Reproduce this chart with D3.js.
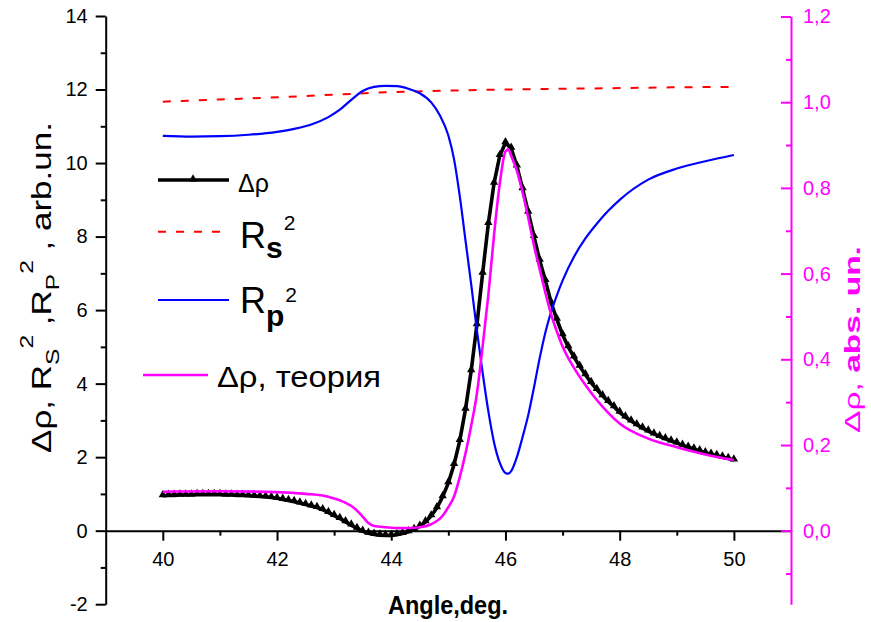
<!DOCTYPE html>
<html>
<head>
<meta charset="utf-8">
<script src="https://cdnjs.cloudflare.com/ajax/libs/d3/7.8.5/d3.min.js"></script>
<style>
  body { margin: 0; background: #fff; }
  svg { display: block; font-family: "Liberation Sans", Arial, sans-serif; }
</style>
</head>
<body>
<svg id="chart" width="871" height="622"></svg>
<script>
// experimental delta rho (left axis), one point every 0.1 deg
const angleExp = [40.0, 40.1, 40.2, 40.3, 40.4, 40.5, 40.6, 40.7, 40.8, 40.9,
  41.0, 41.1, 41.2, 41.3, 41.4, 41.5, 41.6, 41.7, 41.8, 41.9,
  42.0, 42.1, 42.2, 42.3, 42.4, 42.5, 42.6, 42.7, 42.8, 42.9,
  43.0, 43.1, 43.2, 43.3, 43.4, 43.5, 43.6, 43.7, 43.8, 43.9,
  44.0, 44.1, 44.2, 44.3, 44.4, 44.5, 44.6, 44.7, 44.8, 44.9,
  45.0, 45.1, 45.2, 45.3, 45.4, 45.5, 45.6, 45.7, 45.8, 45.9,
  46.0, 46.1, 46.2, 46.3, 46.4, 46.5, 46.6, 46.7, 46.8, 46.9,
  47.0, 47.1, 47.2, 47.3, 47.4, 47.5, 47.6, 47.7, 47.8, 47.9,
  48.0, 48.1, 48.2, 48.3, 48.4, 48.5, 48.6, 48.7, 48.8, 48.9,
  49.0, 49.1, 49.2, 49.3, 49.4, 49.5, 49.6, 49.7, 49.8, 49.9, 50.0];
const dRhoExp = [0.95, 0.96, 0.96, 0.97, 0.97, 0.97, 0.98, 0.98, 0.98, 0.98,
  0.98, 0.97, 0.97, 0.96, 0.96, 0.95, 0.94, 0.93, 0.92, 0.90,
  0.88, 0.85, 0.82, 0.79, 0.75, 0.71, 0.67, 0.63, 0.57, 0.49,
  0.41, 0.33, 0.24, 0.15, 0.06, -0.02, -0.07, -0.10, -0.12, -0.13,
  -0.13, -0.11, -0.08, -0.03, 0.03, 0.12, 0.24, 0.40, 0.62, 0.92,
  1.30, 1.80, 2.45, 3.30, 4.35, 5.60, 7.00, 8.35, 9.45, 10.20,
  10.55, 10.40, 9.92, 9.30, 8.66, 8.00, 7.35, 6.80, 6.20, 5.75,
  5.33, 5.00, 4.72, 4.47, 4.24, 4.03, 3.84, 3.67, 3.51, 3.37,
  3.22, 3.09, 2.98, 2.88, 2.79, 2.71, 2.63, 2.56, 2.50, 2.44,
  2.38, 2.32, 2.27, 2.22, 2.17, 2.12, 2.08, 2.04, 2.00, 1.96, 1.92];

// Rs^2 (left axis)
const angleRs = [40, 41, 42, 43, 44, 45, 46, 47, 48, 49, 50];
const rs2 = [11.67, 11.73, 11.79, 11.86, 11.93, 11.97, 12.0, 12.02, 12.04, 12.06, 12.07];

// Rp^2 (left axis)
const angleRp = [40, 40.5, 41, 41.5, 42, 42.3, 42.6, 42.9, 43.1, 43.3, 43.5, 43.7, 43.9,
  44.1, 44.3, 44.5, 44.7, 44.85, 45.0, 45.1, 45.2, 45.3, 45.4, 45.5, 45.6, 45.7, 45.8,
  45.9, 46.0, 46.05, 46.1, 46.2, 46.3, 46.4, 46.5, 46.6, 46.7, 46.8, 46.9, 47.0, 47.2,
  47.4, 47.6, 47.8, 48.0, 48.5, 49.0, 49.5, 50.0];
const rp2 = [10.74, 10.72, 10.73, 10.77, 10.85, 10.93, 11.05, 11.25, 11.45, 11.72, 11.96, 12.07, 12.1,
  12.09, 12.02, 11.9, 11.65, 11.3, 10.75, 10.1, 9.1, 7.9, 6.7, 5.45, 4.3, 3.25, 2.4,
  1.85, 1.57, 1.55, 1.62, 2.0, 2.55, 3.15, 3.9, 4.7, 5.4, 5.95, 6.4, 6.8, 7.45,
  7.95, 8.35, 8.7, 9.0, 9.55, 9.85, 10.05, 10.22];

// delta rho, theory (right axis)
const angleTh = [40, 41, 42, 42.5, 42.8, 43.0, 43.2, 43.35, 43.5, 43.6, 43.7, 43.9, 44.2,
  44.5, 44.7, 44.9, 45.0, 45.1, 45.2, 45.3, 45.4, 45.5, 45.6, 45.7, 45.8, 45.9, 46.0,
  46.05, 46.1, 46.2, 46.3, 46.4, 46.5, 46.6, 46.7, 46.8, 46.9, 47.0, 47.2, 47.4, 47.6,
  47.8, 48.0, 48.5, 49.0, 49.5, 50.0];
const dRhoTh = [0.091, 0.092, 0.09, 0.086, 0.082, 0.075, 0.065, 0.053, 0.033, 0.018, 0.011, 0.008, 0.006,
  0.008, 0.015, 0.035, 0.055, 0.08, 0.125, 0.18, 0.245, 0.32, 0.43, 0.55, 0.69, 0.81, 0.885,
  0.89, 0.875, 0.84, 0.79, 0.73, 0.665, 0.61, 0.555, 0.505, 0.465, 0.43, 0.38, 0.34, 0.305,
  0.275, 0.25, 0.215, 0.195, 0.178, 0.165];

const leftMajor = [-2, 0, 2, 4, 6, 8, 10, 12, 14];
const leftMinor = [-1, 1, 3, 5, 7, 9, 11, 13];
const bottomMajor = [40, 42, 44, 46, 48, 50];
const bottomMinor = [41, 43, 45, 47, 49];
const rightMajor = [0, 0.2, 0.4, 0.6, 0.8, 1.0, 1.2];
const rightMinor = [-0.1, 0.1, 0.3, 0.5, 0.7, 0.9, 1.1];

const MAGENTA = "#ff00ff";
const svg = d3.select("#chart");

const x = d3.scaleLinear().domain([39, 51]).range([105.7, 791]);
const yL = d3.scaleLinear().domain([-2, 14]).range([604.2, 16]);
const yR = d3.scaleLinear().domain([-0.1715, 1.2]).range([604.2, 16.5]);

// curves
const lineL = d3.line().x(d => x(d[0])).y(d => yL(d[1]));
const lineR = d3.line().x(d => x(d[0])).y(d => yR(d[1]));

const expPts = angleExp.map((a, i) => [a, dRhoExp[i]]);
const rsPts = angleRs.map((a, i) => [a, rs2[i]]);
const rpPts = angleRp.map((a, i) => [a, rp2[i]]);
const thPts = angleTh.map((a, i) => [a, dRhoTh[i]]);

svg.append("path").attr("d", lineL(expPts))
  .attr("fill", "none").attr("stroke", "#000").attr("stroke-width", 3.6);
svg.selectAll(".tri").data(expPts).enter().append("path")
  .attr("class", "tri")
  .attr("d", d3.symbol(d3.symbolTriangle, 30))
  .attr("transform", d => `translate(${x(d[0])},${yL(d[1]) - 1})`)
  .attr("fill", "#000");

svg.append("path").attr("d", lineL.curve(d3.curveMonotoneX)(rsPts))
  .attr("fill", "none").attr("stroke", "#ff0000").attr("stroke-width", 2)
  .attr("stroke-dasharray", "8,10");
svg.append("path").attr("d", lineL.curve(d3.curveMonotoneX)(rpPts))
  .attr("fill", "none").attr("stroke", "#0000ff").attr("stroke-width", 2.2);
svg.append("path").attr("d", lineR.curve(d3.curveMonotoneX)(thPts))
  .attr("fill", "none").attr("stroke", MAGENTA).attr("stroke-width", 2.6);

// axes
function styleAxis(g, color) {
  g.attr("font-size", null).attr("font-family", null);
  g.selectAll("line").attr("stroke", color).attr("stroke-width", 2);
  g.selectAll("path").attr("stroke", color).attr("stroke-width", 2);
  g.selectAll("text").attr("fill", color).style("font-size", "20px");
}

const gL = svg.append("g").attr("transform", "translate(105.7,0)")
  .call(d3.axisLeft(yL).tickValues(leftMajor).tickSize(10).tickSizeOuter(0).tickPadding(8)
    .tickFormat(d => String(d)));
gL.append("g").call(d3.axisLeft(yL).tickValues(leftMinor).tickSize(5).tickFormat(""))
  .select(".domain").remove();
styleAxis(gL, "#000");

const gB = svg.append("g").attr("transform", `translate(0,${yL(0)})`)
  .call(d3.axisBottom(x).tickValues(bottomMajor).tickSize(10).tickSizeOuter(0).tickPadding(11));
gB.append("g").call(d3.axisBottom(x).tickValues(bottomMinor).tickSize(5).tickFormat(""))
  .select(".domain").remove();
styleAxis(gB, "#000");

const comma = d => d3.format(".1f")(d).replace(".", ",");
const gR = svg.append("g").attr("transform", "translate(791,0)")
  .call(d3.axisRight(yR).tickValues(rightMajor).tickSizeInner(-10).tickSizeOuter(0)
    .tickPadding(12).tickFormat(comma));
gR.append("g").call(d3.axisRight(yR).tickValues(rightMinor).tickSizeInner(-5).tickSizeOuter(0).tickFormat(""))
  .select(".domain").remove();
styleAxis(gR, MAGENTA);

// stretch a text along its own direction so it covers a given length
function fitLength(sel, base, len) {
  const w = sel.node().getBBox().width;
  sel.attr("transform", `${base} scale(${len / w},1)`);
}

// axis titles
svg.append("text").attr("x", 448).attr("y", 614)
  .attr("text-anchor", "middle").attr("font-weight", "bold")
  .attr("font-size", 26).attr("textLength", 120).attr("lengthAdjust", "spacingAndGlyphs")
  .text("Angle,deg.");

const tl = svg.append("text").attr("text-anchor", "middle").attr("font-size", 27);
tl.append("tspan").text("Δρ, R");
tl.append("tspan").attr("font-size", 19).attr("dy", 8).text("S");
tl.append("tspan").attr("font-size", 19).attr("dy", -26).text("2");
tl.append("tspan").attr("dy", 18).text(" ,R");
tl.append("tspan").attr("font-size", 19).attr("dy", 8).text("P");
tl.append("tspan").attr("font-size", 19).attr("dy", -26).text("2");
tl.append("tspan").attr("dy", 18).text(" , arb.un.");
fitLength(tl, "translate(51,287.5) rotate(-90)", 331);

const tr = svg.append("text").attr("text-anchor", "middle").attr("font-size", 22).attr("fill", MAGENTA);
tr.append("tspan").text("Δρ, ");
tr.append("tspan").attr("font-weight", "bold").text("abs. un.");
fitLength(tr, "translate(860,339.5) rotate(-90)", 187);

// legend
const lg = svg.append("g");
lg.append("line").attr("x1", 158).attr("x2", 229).attr("y1", 180).attr("y2", 180)
  .attr("stroke", "#000").attr("stroke-width", 3.6);
lg.append("path").attr("d", d3.symbol(d3.symbolTriangle, 30))
  .attr("transform", "translate(193,179)").attr("fill", "#000");
lg.append("text").attr("x", 238).attr("y", 191.7).attr("font-size", 25).text("Δρ");

lg.append("line").attr("x1", 158).attr("x2", 221).attr("y1", 231.7).attr("y2", 231.7)
  .attr("stroke", "#ff0000").attr("stroke-width", 2).attr("stroke-dasharray", "8,10");
const ls = lg.append("text").attr("x", 240).attr("y", 248.3).attr("font-size", 36);
ls.append("tspan").text("R");
ls.append("tspan").attr("font-size", 30).attr("font-weight", "bold").attr("dy", 10).text("s");
ls.append("tspan").attr("font-size", 21).attr("dx", 1).attr("dy", -28).text("2");

lg.append("line").attr("x1", 158).attr("x2", 229).attr("y1", 300).attr("y2", 300)
  .attr("stroke", "#0000ff").attr("stroke-width", 2.2);
const lp = lg.append("text").attr("x", 240).attr("y", 312.7).attr("font-size", 36);
lp.append("tspan").text("R");
lp.append("tspan").attr("font-size", 30).attr("font-weight", "bold").attr("dy", 13).text("p");
lp.append("tspan").attr("font-size", 21).attr("dx", 1).attr("dy", -24).text("2");

lg.append("line").attr("x1", 143).attr("x2", 208).attr("y1", 375).attr("y2", 375)
  .attr("stroke", MAGENTA).attr("stroke-width", 2.6);
lg.append("text").attr("x", 217).attr("y", 386.7).attr("font-size", 29)
  .attr("textLength", 164).attr("lengthAdjust", "spacingAndGlyphs")
  .text("Δρ, теория");
</script>
</body>
</html>
